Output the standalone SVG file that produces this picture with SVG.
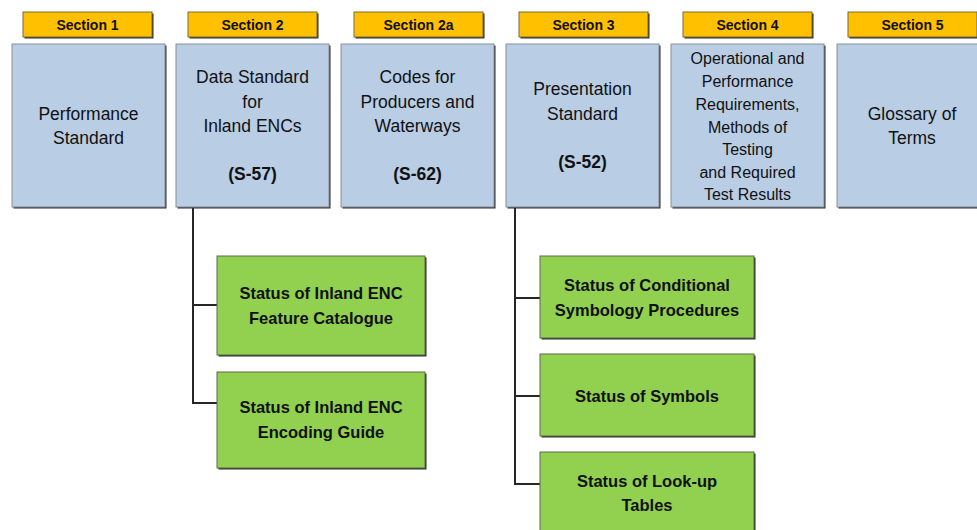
<svg xmlns="http://www.w3.org/2000/svg" width="977" height="530" viewBox="0 0 977 530">
  <style>
    .shadow { fill: #2b2b2b; }
    .hdr { fill: #ffc000; stroke: #7a6a3a; stroke-width: 1; }
    .sec { fill: #b9cde5; stroke: #8a8f96; stroke-width: 1; }
    .sub { fill: #92d050; stroke: #5a6a4a; stroke-width: 1; }
    .conn { fill: none; stroke: #262626; stroke-width: 2; }
    text { font-family: "Liberation Sans", Arial, sans-serif; fill: #111; text-anchor: middle; }
    .ht { font-size: 14px; font-weight: bold; }
    .bt { font-size: 17.5px; }
    .b4 { font-size: 16px; }
    .gt { font-size: 16.5px; font-weight: bold; }
  </style>

  <!-- connectors from sections 2 and 3 to their status boxes -->
  <g id="connectors">
    <path class="conn" d="M193,207 V403 H218 M193,305 H218"/>
    <path class="conn" d="M515,207 V484 H541 M515,298 H541 M515,396 H541"/>
  </g>

  <!-- Section 1 -->
  <g id="section1">
    <rect class="shadow" x="24.5" y="13.5" width="129" height="25"/>
    <rect class="hdr" x="23" y="12" width="129" height="25"/>
    <text class="ht" x="87.5" y="29.5">Section 1</text>
    <rect class="shadow" x="13.5" y="45.5" width="153" height="163"/>
    <rect class="sec" x="12" y="44" width="153" height="163"/>
    <text class="bt" x="88.5" y="120">Performance</text>
    <text class="bt" x="88.5" y="144">Standard</text>
  </g>

  <!-- Section 2 -->
  <g id="section2">
    <rect class="shadow" x="189.5" y="13.5" width="129" height="25"/>
    <rect class="hdr" x="188" y="12" width="129" height="25"/>
    <text class="ht" x="252.5" y="29.5">Section 2</text>
    <rect class="shadow" x="177.5" y="45.5" width="153" height="163"/>
    <rect class="sec" x="176" y="44" width="153" height="163"/>
    <text class="bt" x="252.5" y="83">Data Standard</text>
    <text class="bt" x="252.5" y="108">for</text>
    <text class="bt" x="252.5" y="132">Inland ENCs</text>
    <text class="bt" x="252.5" y="180" font-weight="bold">(S-57)</text>
  </g>

  <!-- Section 2a -->
  <g id="section2a">
    <rect class="shadow" x="355.5" y="13.5" width="129" height="25"/>
    <rect class="hdr" x="354" y="12" width="129" height="25"/>
    <text class="ht" x="418.5" y="29.5">Section 2a</text>
    <rect class="shadow" x="342.5" y="45.5" width="153" height="163"/>
    <rect class="sec" x="341" y="44" width="153" height="163"/>
    <text class="bt" x="417.5" y="83">Codes for</text>
    <text class="bt" x="417.5" y="108">Producers and</text>
    <text class="bt" x="417.5" y="132">Waterways</text>
    <text class="bt" x="417.5" y="180" font-weight="bold">(S-62)</text>
  </g>

  <!-- Section 3 -->
  <g id="section3">
    <rect class="shadow" x="520.5" y="13.5" width="129" height="25"/>
    <rect class="hdr" x="519" y="12" width="129" height="25"/>
    <text class="ht" x="583.5" y="29.5">Section 3</text>
    <rect class="shadow" x="507.5" y="45.5" width="153" height="163"/>
    <rect class="sec" x="506" y="44" width="153" height="163"/>
    <text class="bt" x="582.5" y="95">Presentation</text>
    <text class="bt" x="582.5" y="120">Standard</text>
    <text class="bt" x="582.5" y="168" font-weight="bold">(S-52)</text>
  </g>

  <!-- Section 4 -->
  <g id="section4">
    <rect class="shadow" x="684.5" y="13.5" width="129" height="25"/>
    <rect class="hdr" x="683" y="12" width="129" height="25"/>
    <text class="ht" x="747.5" y="29.5">Section 4</text>
    <rect class="shadow" x="672.5" y="45.5" width="153" height="163"/>
    <rect class="sec" x="671" y="44" width="153" height="163"/>
    <text class="b4" x="747.5" y="64">Operational and</text>
    <text class="b4" x="747.5" y="87">Performance</text>
    <text class="b4" x="747.5" y="110">Requirements,</text>
    <text class="b4" x="747.5" y="133">Methods of</text>
    <text class="b4" x="747.5" y="155">Testing</text>
    <text class="b4" x="747.5" y="178">and Required</text>
    <text class="b4" x="747.5" y="200">Test Results</text>
  </g>

  <!-- Section 5 -->
  <g id="section5">
    <rect class="shadow" x="849.5" y="13.5" width="129" height="25"/>
    <rect class="hdr" x="848" y="12" width="129" height="25"/>
    <text class="ht" x="912.5" y="29.5">Section 5</text>
    <rect class="shadow" x="838.5" y="45.5" width="153" height="163"/>
    <rect class="sec" x="837" y="44" width="153" height="163"/>
    <text class="bt" x="912" y="120">Glossary of</text>
    <text class="bt" x="912" y="144">Terms</text>
  </g>

  <!-- Section 2 status boxes -->
  <g id="fc">
    <rect class="shadow" x="218.5" y="257.5" width="208" height="99"/>
    <rect class="sub" x="217" y="256" width="208" height="99"/>
    <text class="gt" x="321" y="299">Status of Inland ENC</text>
    <text class="gt" x="321" y="324">Feature Catalogue</text>
  </g>
  <g id="eg">
    <rect class="shadow" x="218.5" y="373.5" width="208" height="96"/>
    <rect class="sub" x="217" y="372" width="208" height="96"/>
    <text class="gt" x="321" y="413">Status of Inland ENC</text>
    <text class="gt" x="321" y="438">Encoding Guide</text>
  </g>

  <!-- Section 3 status boxes -->
  <g id="csp">
    <rect class="shadow" x="541.5" y="257.5" width="214" height="82"/>
    <rect class="sub" x="540" y="256" width="214" height="82"/>
    <text class="gt" x="647" y="291">Status of Conditional</text>
    <text class="gt" x="647" y="316">Symbology Procedures</text>
  </g>
  <g id="sym">
    <rect class="shadow" x="541.5" y="355.5" width="214" height="82"/>
    <rect class="sub" x="540" y="354" width="214" height="82"/>
    <text class="gt" x="647" y="402">Status of Symbols</text>
  </g>
  <g id="lut">
    <rect class="shadow" x="541.5" y="453.5" width="214" height="82"/>
    <rect class="sub" x="540" y="452" width="214" height="82"/>
    <text class="gt" x="647" y="487">Status of Look-up</text>
    <text class="gt" x="647" y="511">Tables</text>
  </g>
</svg>
